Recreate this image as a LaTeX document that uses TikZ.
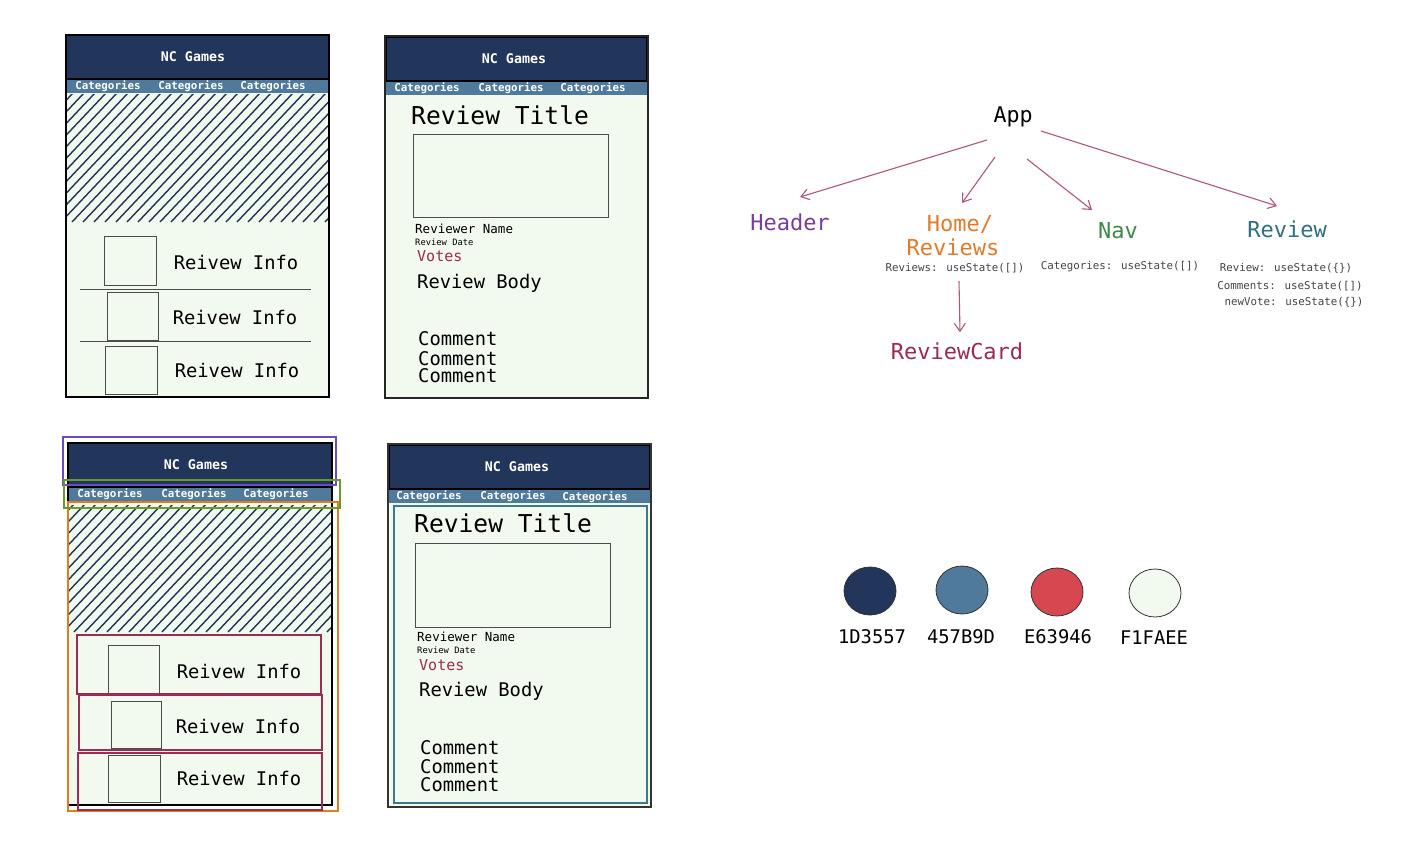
\documentclass[tikz,border=0pt]{standalone}
\usepackage{fontspec}
\newfontfamily\mono{DejaVu Sans Mono}
\usetikzlibrary{arrows.meta}
\definecolor{navyc}{HTML}{22355A}
\definecolor{barc}{HTML}{4F7A9B}
\definecolor{bodyc}{HTML}{F2F9EE}
\definecolor{redc}{HTML}{D6474F}
\definecolor{hatchc}{HTML}{1D3557}
\definecolor{arrc}{HTML}{B0557D}
\definecolor{purpc}{HTML}{7A3C9C}
\definecolor{orc}{HTML}{E07B2A}
\definecolor{grc}{HTML}{3D8A48}
\definecolor{tealc}{HTML}{2F6F7F}
\definecolor{crimc}{HTML}{9C2B50}
\definecolor{codec}{HTML}{444444}
\definecolor{boxpurp}{HTML}{6A4BC4}
\definecolor{boxgreen}{HTML}{6A9A2A}
\definecolor{boxorange}{HTML}{E07B20}
\definecolor{boxcrim}{HTML}{9B2D55}
\definecolor{boxteal}{HTML}{3A7A8A}
\newcommand\fsz[1]{\mono\fontsize{#1}{#1}\selectfont}
\tikzset{
  txt/.style={inner sep=0pt, font=\fsz{#1}},
  ltxt/.style={inner sep=0pt, anchor=west, font=\fsz{#1}},
  headtxt/.style={inner sep=0pt, text=white, font=\fsz{13.3}\bfseries},
  cattxt/.style={inner sep=0pt, text=white, font=\fsz{10.8}\bfseries},
  frameline/.style={draw=black, line width=2pt},
  headbox/.style={fill=navyc, draw=black, line width=1.5pt},
  barbox/.style={fill=barc},
  sq/.style={draw=black!70, line width=1pt},
  sep/.style={draw=black!70, line width=1pt},
  hatchl/.style={draw=hatchc, line width=1.4pt},
  arr/.style={draw=arrc, line width=1.1pt, -{Straight Barb[length=8pt,width=11pt]}},
  codetxt/.style={inner sep=0pt, text=codec, font=\fsz{10.8}},
  ovl/.style={line width=2.2pt},
}
\begin{document}
\begin{tikzpicture}[x=1pt,y=-1pt]
\useasboundingbox (0,0) rectangle (1423,849);
\fill[white] (0,0) rectangle (1423,849);

% ================= Frame 1 (top-left) =================
\fill[bodyc] (66,35) rectangle (329,397);
\fill[headbox] (66,35) rectangle (329,79);
\fill[barbox] (67,80) rectangle (328,93);
\begin{scope}
  \clip (67,94) rectangle (328,222);
  \foreach \i in {0,...,36} {\draw[hatchl] (-60+\i*11,222) -- ++(122,-129);}
\end{scope}
\draw[frameline] (66,35) rectangle (329,397);
\node[headtxt] (f1head) at (193,57) {NC Games};
\node[cattxt] (f1c1) at (108,86) {Categories};
\node[cattxt] (f1c2) at (191,86) {Categories};
\node[cattxt] (f1c3) at (273,86) {Categories};
\draw[sq] (104,236) rectangle (156,285);
\draw[sep] (80,289) -- (311,289);
\draw[sq] (107,292) rectangle (158,340);
\draw[sep] (80,341) -- (311,341);
\draw[sq] (105,346) rectangle (157,394);
\node[txt=18.8] (f1i1) at (236,262) {Reivew Info};
\node[txt=18.8] (f1i2) at (235,317) {Reivew Info};
\node[txt=18.8] (f1i3) at (237,370) {Reivew Info};

% ================= Frame 2 (top-middle) =================
\fill[bodyc] (385,36) rectangle (648,398);
\fill[headbox] (386,37) rectangle (647,81);
\fill[barbox] (386,82) rectangle (647,95);
\draw[draw=black!85, line width=1.6pt] (385,36) rectangle (648,398);
\node[headtxt] (f2head) at (514,59) {NC Games};
\node[cattxt] (f2c1) at (427,88) {Categories};
\node[cattxt] (f2c2) at (511,88) {Categories};
\node[cattxt] (f2c3) at (593,88) {Categories};
\node[ltxt=24.6] (f2title) at (411,115) {Review Title};
\draw[sq] (413,134) rectangle (608,217);
\node[ltxt=12.5] (f2name) at (415,229) {Reviewer Name};
\node[ltxt=8.8] (f2date) at (415,242) {Review Date};
\node[ltxt=15, text=crimc] (f2votes) at (417,256) {Votes};
\node[ltxt=18.8] (f2body) at (417,283) {Review Body};
\node[ltxt=18.8] (f2cm1) at (418,339) {Comment};
\node[ltxt=18.8] (f2cm2) at (418,359) {Comment};
\node[ltxt=18.8] (f2cm3) at (418,376) {Comment};

% ================= Frame 3 (bottom-left) =================
\fill[bodyc] (68,443) rectangle (332,805);
\fill[headbox] (68,443) rectangle (332,487);
\fill[barbox] (69,488) rectangle (331,502);
\begin{scope}
  \clip (69,505) rectangle (331,632);
  \foreach \i in {0,...,36} {\draw[hatchl] (-58+\i*11,632) -- ++(122,-129);}
\end{scope}
\draw[line width=2.6pt, draw=black] (68,443) rectangle (332,805);
\node[headtxt] (f3head) at (196,465) {NC Games};
\node[cattxt] (f3c1) at (110,494) {Categories};
\node[cattxt] (f3c2) at (194,494) {Categories};
\node[cattxt] (f3c3) at (276,494) {Categories};
\draw[sq] (108,645) rectangle (159,693);
\draw[sq] (111,701) rectangle (161,748);
\draw[sq] (108,755) rectangle (160,802);
\node[txt=18.8] (f3i1) at (239,671) {Reivew Info};
\node[txt=18.8] (f3i2) at (238,726) {Reivew Info};
\node[txt=18.8] (f3i3) at (239,778) {Reivew Info};
% overlays
\draw[ovl, draw=boxpurp] (63,437) rectangle (336,485);
\draw[ovl, draw=boxorange] (68,502) rectangle (338,811);
\draw[ovl, draw=boxgreen] (64,480) rectangle (340,508);
\draw[ovl, draw=boxcrim] (77,635) rectangle (321,694);
\draw[ovl, draw=boxcrim] (79,695) rectangle (322,750);
\draw[ovl, draw=boxcrim] (78,753) rectangle (322,810);

% ================= Frame 4 (bottom-middle) =================
\fill[bodyc] (388,444) rectangle (651,807);
\fill[headbox] (389,445) rectangle (650,489);
\fill[barbox] (389,490) rectangle (650,503);
\draw[draw=black!80, line width=1.5pt] (388,444) rectangle (651,807);
\node[headtxt] (f4head) at (517,467) {NC Games};
\node[cattxt] (f4c1) at (429,496) {Categories};
\node[cattxt] (f4c2) at (513,496) {Categories};
\node[cattxt] (f4c3) at (595,497) {Categories};
\draw[ovl, draw=boxteal] (394,506) rectangle (647,803);
\node[ltxt=24.6] (f4title) at (414,523) {Review Title};
\draw[sq] (415,543) rectangle (610,627);
\node[ltxt=12.5] (f4name) at (417,637) {Reviewer Name};
\node[ltxt=8.8] (f4date) at (417,650) {Review Date};
\node[ltxt=15, text=crimc] (f4votes) at (419,665) {Votes};
\node[ltxt=18.8] (f4body) at (419,691) {Review Body};
\node[ltxt=18.8] (f4cm1) at (420,748) {Comment};
\node[ltxt=18.8] (f4cm2) at (420,767) {Comment};
\node[ltxt=18.8] (f4cm3) at (420,785) {Comment};

% ================= Component tree =================
\node[txt=21.6] (app) at (1013,117) {App};
\node[txt=22, text=purpc] (header) at (790,222) {Header};
\node[txt=22, text=orc] (homeA) at (960,224) {Home/};
\node[txt=22, text=orc] (homeB) at (953,247) {Reviews};
\node[txt=22, text=grc] (nav) at (1118,231) {Nav};
\node[txt=22, text=tealc] (review) at (1287,229) {Review};
\node[txt=22, text=crimc] (rcard) at (957,351) {ReviewCard};
\node[codetxt] (hstate) at (955,268) {Reviews: useState([])};
\node[codetxt] (nstate) at (1120,267) {Categories: useState([])};
\node[codetxt] (rstate1) at (1286,268) {Review: useState(\{\})};
\node[codetxt] (rstate2) at (1290,286) {Comments: useState([])};
\node[codetxt] (rstate3) at (1294,302) {newVote: useState(\{\})};

\draw[arr] ([shift={(-26,23)}]app.center) -- ([shift={(10,-25)}]header.center);
\draw[arr] ([shift={(-18,40)}]app.center) -- ([shift={(2,-21)}]homeA.center);
\draw[arr] ([shift={(14,42)}]app.center) -- ([shift={(-26,-21)}]nav.center);
\draw[arr] ([shift={(28,14)}]app.center) -- ([shift={(-10,-23)}]review.center);
\draw[arr] ([shift={(4,8)}]hstate.south) -- ([shift={(3,-10)}]rcard.north);

% ================= Palette =================
\filldraw[fill=navyc, draw=black!80, line width=0.8pt] (870,591) ellipse (26 and 24);
\filldraw[fill=barc, draw=black!80, line width=0.8pt] (962,590) ellipse (26 and 24);
\filldraw[fill=redc, draw=black!80, line width=0.8pt] (1057,592) ellipse (26 and 24);
\filldraw[fill=bodyc, draw=black!80, line width=0.8pt] (1155,593) ellipse (26 and 24);
\node[txt=18.8] (p1) at (872,637) {1D3557};
\node[txt=18.8] (p2) at (961,637) {457B9D};
\node[txt=18.8] (p3) at (1058,637) {E63946};
\node[txt=18.8] (p4) at (1154,638) {F1FAEE};
\end{tikzpicture}
\end{document}
